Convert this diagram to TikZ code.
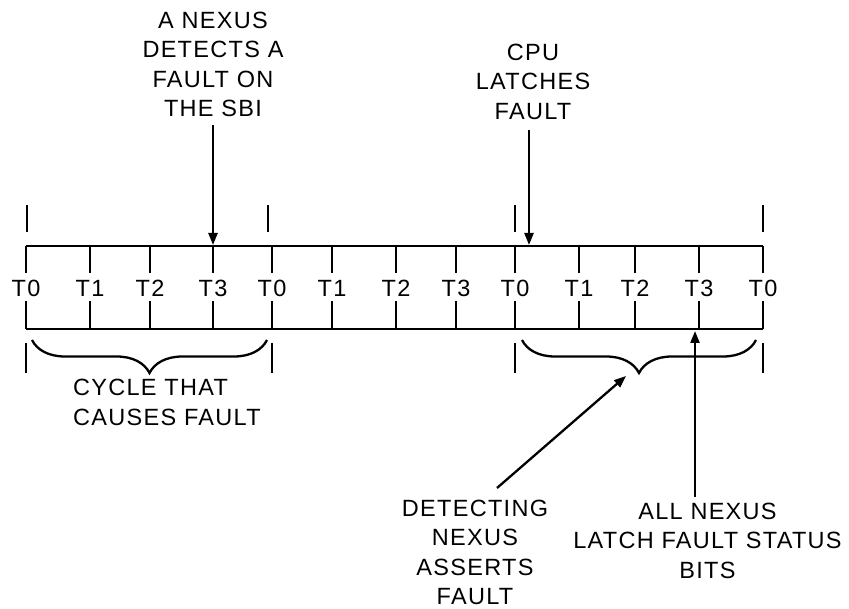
\documentclass[tikz,border=0pt]{standalone}
\usepackage{fontspec}
\setmainfont[LetterSpace=5.5]{Liberation Sans}
\usetikzlibrary{arrows.meta,decorations.pathreplacing}
\begin{document}
\begin{tikzpicture}[x=1pt,y=-1pt,line width=2.3pt,
  lbl/.style={font=\fontsize{23.5}{29.5}\selectfont,align=center,inner sep=0pt},
  tlbl/.style={font=\fontsize{23.5}{29.5}\selectfont,inner sep=0pt},
  arr/.style={-{Triangle[length=12pt,width=9pt]},line width=2.3pt},
  brc/.style={decorate,decoration={brace,amplitude=33pt,mirror},line width=2.3pt}]
\useasboundingbox (0,0) rectangle (849,609);
% band outline
\coordinate (bl) at (26,246);
\coordinate (br) at (763,246);
\coordinate (cl) at (26,329);
\coordinate (cr) at (763,329);
\draw (bl) -- (br);
\draw (cl) -- (cr);
% ticks and labels
\foreach \x/\t [count=\i] in {26/T0,90/T1,150/T2,213/T3,272/T0,332/T1,396/T2,456/T3,515/T0,579/T1,635/T2,699/T3,763/T0}{
  \node[tlbl] (t\i) at (\x,288.5) {\t};
  \coordinate (tt\i) at (\x,246);
  \coordinate (tb\i) at (\x,329);
  \draw (tt\i) -- (\x,273);
  \draw (\x,301) -- (tb\i);
}
% marks above the band
\foreach \x [count=\i] in {27,268,515,763}{
  \coordinate (ma\i) at (\x,205);
  \draw (ma\i) -- ++(0,27);
}
% marks below the band
\foreach \x [count=\i] in {26,272,515,763}{
  \coordinate (mb\i) at (\x,343);
  \draw (mb\i) -- ++(0,30);
}
% braces
\coordinate (b1r) at (32,340);
\coordinate (b1l) at (267,340);
\coordinate (b2r) at (522,340);
\coordinate (b2l) at (756,340);
\draw[brc] (b1r) -- (b1l);
\draw[brc] (b2r) -- (b2l);
% labels
\node[lbl] (nexus) at (213,64.5) {A NEXUS\\DETECTS A\\FAULT ON\\THE SBI};
\node[lbl] (cpu) at (533,81.5) {CPU\\LATCHES\\FAULT};
\node[lbl,align=left,anchor=west] (cycle) at (72,402.5) {CYCLE THAT\\CAUSES FAULT};
\node[lbl] (detect) at (475,552.5) {DETECTING\\NEXUS\\ASSERTS\\FAULT};
\node[lbl] (allnx) at (707.5,540.5) {ALL NEXUS\\LATCH FAULT STATUS\\BITS};
% arrows
\coordinate (a1s) at (213,125);
\coordinate (a1e) at (213,245);
\coordinate (a2s) at (529,130);
\coordinate (a2e) at (529,245);
\coordinate (a3s) at (497,488);
\coordinate (a3e) at (626,376);
\coordinate (a4s) at (695,497);
\coordinate (a4e) at (695,331);
\draw[arr] (a1s) -- (a1e);
\draw[arr] (a2s) -- (a2e);
\draw[arr] (a3s) -- (a3e);
\draw[arr] (a4s) -- (a4e);
\end{tikzpicture}
\end{document}
